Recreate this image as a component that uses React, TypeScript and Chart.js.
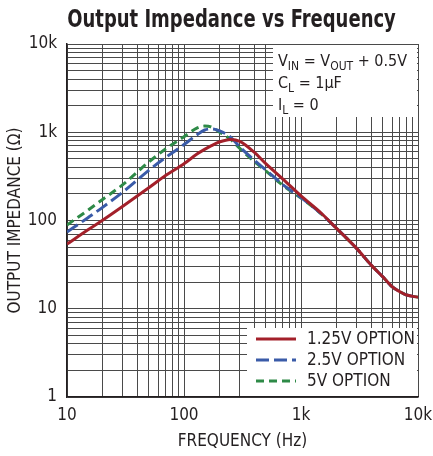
import React, { useEffect, useRef } from 'react';
import { Chart, registerables } from 'chart.js';

Chart.register(...registerables);

// ---- data ----
const freqHz = [10, 15, 20, 30, 50, 70, 100, 130, 150, 170, 200, 250, 300, 400, 500, 700, 1000, 1500, 2000, 3000, 4000, 5000, 6000, 7000, 8000, 10000];
const z125V = [54, 78, 100, 145, 235, 325, 440, 570, 640, 700, 775, 830, 790, 590, 440, 295, 190, 120, 82, 48, 31, 23, 17.8, 15.6, 14.3, 13.5];
const z25V = [74, 107, 140, 210, 370, 520, 725, 945, 1060, 1090, 1040, 880, 680, 480, 375, 255, 182, 118, 82, 48, 31, 23, 17.8, 15.6, 14.3, 13.5];
const z5V = [89, 130, 172, 255, 460, 650, 890, 1120, 1175, 1150, 1010, 830, 655, 465, 365, 250, 180, 118, 82, 48, 31, 23, 17.8, 15.6, 14.3, 13.5];
const seriesLabels = ['1.25V OPTION', '2.5V OPTION', '5V OPTION'];

const xTickValues = [10, 100, 1000, 10000];
const xTickLabels = ['10', '100', '1k', '10k'];
const yTickValues = [1, 10, 100, 1000, 10000];
const yTickLabels = ['1', '10', '100', '1k', '10k'];

const titleText = 'Output Impedance vs Frequency';
const xTitle = 'FREQUENCY (Hz)';
const yTitle = 'OUTPUT IMPEDANCE (\u03A9)';
// [text, isSubscript]
const conditionLines: [string, boolean][][] = [
  [['V', false], ['IN', true], [' = V', false], ['OUT', true], [' + 0.5V', false]],
  [['C', false], ['L', true], [' = 1\u00B5F', false]],
  [['I', false], ['L', true], [' = 0', false]],
];

// ---- styles ----
const FAMILY = "'Liberation Sans Narrow', 'DejaVu Sans Condensed', 'Roboto Condensed', 'Arial Narrow', sans-serif";
const INK = '#231f20';
const GRID = '#4a4a4a';
const RED = '#a3202a';
const BLUE = '#3a5ba8';
const GREEN = '#2e8a47';

function decadeGrid(min: number, max: number): number[] {
  const out: number[] = [];
  for (let p = min; p < max; p *= 10) {
    for (let k = 1; k < 10; k++) out.push(Math.round(k * p * 1000) / 1000);
  }
  out.push(max);
  return out;
}

const titlePlugin = {
  id: 'condensedTitle',
  afterDraw(chart: any) {
    const { ctx, chartArea: a } = chart;
    ctx.save();
    ctx.font = `bold 25px ${FAMILY}`;
    ctx.fillStyle = INK;
    ctx.textAlign = 'center';
    ctx.textBaseline = 'alphabetic';
    ctx.translate((a.left + a.right) / 2 - 11, 27);
    ctx.scale(0.8, 1);
    ctx.fillText(titleText, 0, 0);
    ctx.restore();
  },
};

const boxesPlugin = {
  id: 'boxes',
  beforeDatasetsDraw(chart: any) {
    const { ctx, chartArea: a } = chart;
    ctx.save();
    ctx.fillStyle = '#ffffff';
    // conditions box (top right)
    const cLeft = a.right - 145;
    const cBottom = a.top + 73;
    ctx.fillRect(cLeft, a.top + 1, a.right - 1 - cLeft, cBottom - a.top - 1);
    // legend box (bottom right)
    const lLeft = a.right - 171;
    const lTop = a.bottom - 69;
    ctx.fillRect(lLeft, lTop, a.right - 1 - lLeft, a.bottom - 1 - lTop);

    // conditions text
    ctx.fillStyle = INK;
    ctx.textBaseline = 'alphabetic';
    ctx.textAlign = 'left';
    conditionLines.forEach((segs, i) => {
      let x = cLeft + 5;
      const base = a.top + 22 + i * 22;
      segs.forEach(([t, sub]) => {
        ctx.font = `${sub ? 12 : 16}px ${FAMILY}`;
        ctx.fillText(t, x, sub ? base + 4 : base);
        x += ctx.measureText(t).width;
      });
    });

    // legend
    chart.data.datasets.forEach((ds: any, i: number) => {
      const y = a.bottom - 58 + i * 21;
      ctx.strokeStyle = ds.borderColor;
      ctx.lineWidth = 3;
      ctx.setLineDash(ds.borderDash || []);
      ctx.beginPath();
      ctx.moveTo(a.right - 162, y);
      ctx.lineTo(a.right - 122, y);
      ctx.stroke();
      ctx.setLineDash([]);
      ctx.fillStyle = INK;
      ctx.font = `17px ${FAMILY}`;
      ctx.textBaseline = 'middle';
      ctx.fillText(ds.label, a.right - 111, y + 1);
    });
    ctx.restore();
  },
};

export default function App() {
  const ref = useRef<HTMLCanvasElement | null>(null);

  useEffect(() => {
    const canvas = ref.current;
    if (!canvas) return;
    const mk = (vals: number[]) => freqHz.map((f, i) => ({ x: f, y: vals[i] }));
    const chart = new Chart(canvas, {
      type: 'line',
      data: {
        datasets: [
          { label: seriesLabels[0], data: mk(z125V), borderColor: RED, borderWidth: 3, pointRadius: 0, cubicInterpolationMode: 'monotone', fill: false },
          { label: seriesLabels[1], data: mk(z25V), borderColor: BLUE, borderWidth: 3, borderDash: [13, 5], pointRadius: 0, cubicInterpolationMode: 'monotone', fill: false },
          { label: seriesLabels[2], data: mk(z5V), borderColor: GREEN, borderWidth: 3, borderDash: [8, 5], pointRadius: 0, cubicInterpolationMode: 'monotone', fill: false },
        ],
      },
      options: {
        animation: false,
        responsive: false,
        devicePixelRatio: 1,
        layout: { padding: { left: 0, right: 15, top: 44, bottom: 0 } },
        plugins: {
          legend: { display: false },
          tooltip: { enabled: false },
          title: { display: false },
        },
        scales: {
          x: {
            type: 'logarithmic',
            min: 10,
            max: 10000,
            afterBuildTicks: (s: any) => { s.ticks = decadeGrid(10, 10000).map((v) => ({ value: v })); },
            afterFit: (s: any) => { s.height = 59; s.paddingLeft = 0; s.paddingRight = 0; },
            grid: { color: GRID, lineWidth: 1, drawTicks: false },
            border: { color: INK, width: 1.5 },
            ticks: {
              autoSkip: false,
              maxRotation: 0,
              padding: 8,
              color: INK,
              font: { family: FAMILY, size: 17 },
              callback: (v: any) => { const i = xTickValues.indexOf(Number(v)); return i >= 0 ? xTickLabels[i] : ''; },
            },
            title: { display: true, text: xTitle, color: INK, font: { family: FAMILY, size: 17 }, padding: { top: 0, bottom: 4 } },
          },
          y: {
            type: 'logarithmic',
            min: 1,
            max: 10000,
            afterBuildTicks: (s: any) => { s.ticks = decadeGrid(1, 10000).map((v) => ({ value: v })); },
            afterFit: (s: any) => { s.width = 67; s.paddingTop = 0; s.paddingBottom = 0; },
            grid: { color: GRID, lineWidth: 1, drawTicks: false },
            border: { color: INK, width: 1.5 },
            ticks: {
              autoSkip: false,
              padding: 10,
              color: INK,
              font: { family: FAMILY, size: 17 },
              callback: (v: any) => { const i = yTickValues.indexOf(Number(v)); return i >= 0 ? yTickLabels[i] : ''; },
            },
            title: { display: true, text: yTitle, color: INK, font: { family: FAMILY, size: 17 }, padding: { top: 5, bottom: 0 } },
          },
        },
      },
      plugins: [boxesPlugin, titlePlugin],
    } as any);
    return () => chart.destroy();
  }, []);

  return (
    <div style={{ position: 'fixed', left: 0, top: 0, width: 433, height: 456, background: '#fff' }}>
      <canvas ref={ref} width={433} height={456} style={{ display: 'block', width: 433, height: 456 }} />
    </div>
  );
}
